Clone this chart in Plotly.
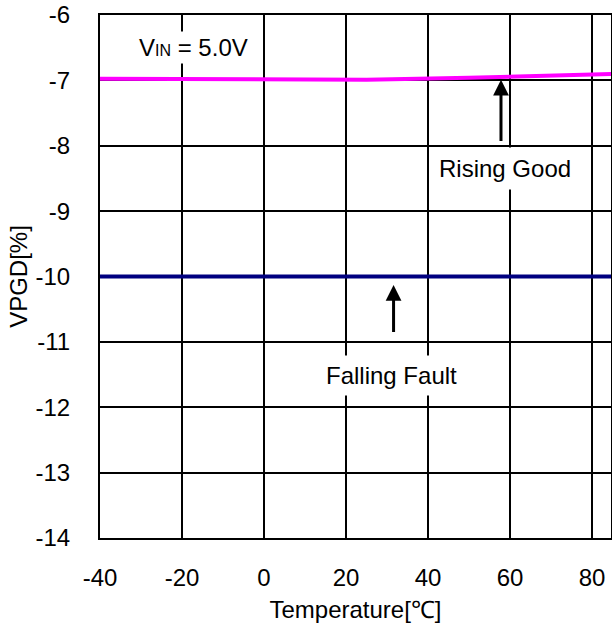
import plotly.graph_objects as go

temps_rising = [-40, -20, 0, 25, 50, 85]
vpgd_rising = [-6.975, -6.975, -6.98, -6.99, -6.96, -6.90]
temps_falling = [-40, -20, 0, 25, 50, 85]
vpgd_falling = [-10.0, -10.0, -10.0, -10.0, -10.0, -10.0]

x_ticks = [-40, -20, 0, 20, 40, 60, 80]
y_ticks = [-14, -13, -12, -11, -10, -9, -8, -7, -6]

FONT = "Liberation Sans, Arial, sans-serif"
FS = 24

fig = go.Figure()
fig.add_trace(go.Scatter(x=temps_rising, y=vpgd_rising, mode="lines",
                         line=dict(color="#FF00FF", width=4), showlegend=False))
fig.add_trace(go.Scatter(x=temps_falling, y=vpgd_falling, mode="lines",
                         line=dict(color="#000080", width=4), showlegend=False))

# arrows first so text boxes sit on top
fig.add_annotation(x=57.8, y=-6.99, ax=57.8, ay=-7.95, xref="x", yref="y", axref="x", ayref="y",
                   text="", showarrow=True, arrowhead=2, arrowsize=1.05, arrowwidth=3,
                   arrowcolor="black")
fig.add_annotation(x=31.6, y=-10.13, ax=31.6, ay=-10.87, xref="x", yref="y", axref="x", ayref="y",
                   text="", showarrow=True, arrowhead=2, arrowsize=1.05, arrowwidth=3,
                   arrowcolor="black")

annos = [
    dict(x=-17.3, y=-6.50, text="V<span style='font-size:16px'>IN</span> = 5.0V", pad=2),
    dict(x=58.8, y=-8.345, text="Rising Good", pad=7),
    dict(x=31.2, y=-11.52, text="Falling Fault", pad=6),
]
for a in annos:
    fig.add_annotation(xref="x", yref="y", showarrow=False, x=a["x"], y=a["y"], text=a["text"],
                       font=dict(family=FONT, size=FS, color="black"),
                       bgcolor="white", borderpad=a["pad"])

fig.update_xaxes(range=[-40, 84.63], tickvals=x_ticks, ticktext=[str(v) for v in x_ticks],
                 showgrid=True, gridcolor="black", gridwidth=2,
                 showline=True, linecolor="black", linewidth=2, mirror=True,
                 zeroline=False, ticks="", ticklabelstandoff=17, automargin=False,
                 ticklabeloverflow="allow",
                 tickfont=dict(family=FONT, size=FS, color="black"),
                 title=dict(text="Temperature[℃]", font=dict(family=FONT, size=FS, color="black"),
                            standoff=11))
fig.update_yaxes(range=[-14, -6], tickvals=y_ticks, ticktext=[str(v) for v in y_ticks],
                 showgrid=True, gridcolor="black", gridwidth=2,
                 showline=True, linecolor="black", linewidth=2, mirror=True,
                 zeroline=False, ticks="", ticklabelstandoff=23, automargin=False,
                 ticklabeloverflow="allow",
                 tickfont=dict(family=FONT, size=FS, color="black"),
                 title=dict(text="VPGD[%]", font=dict(family=FONT, size=FS, color="black"),
                            standoff=1))

fig.update_layout(width=612, height=631, margin=dict(l=100, r=1, t=15, b=93),
                  plot_bgcolor="white", paper_bgcolor="white", showlegend=False,
                  hovermode=False)

# remove the default page margin so the figure sits at the window's top-left corner
fig.write_html("out.html", config={"displayModeBar": False},
               post_script="document.body.style.margin='0';")
